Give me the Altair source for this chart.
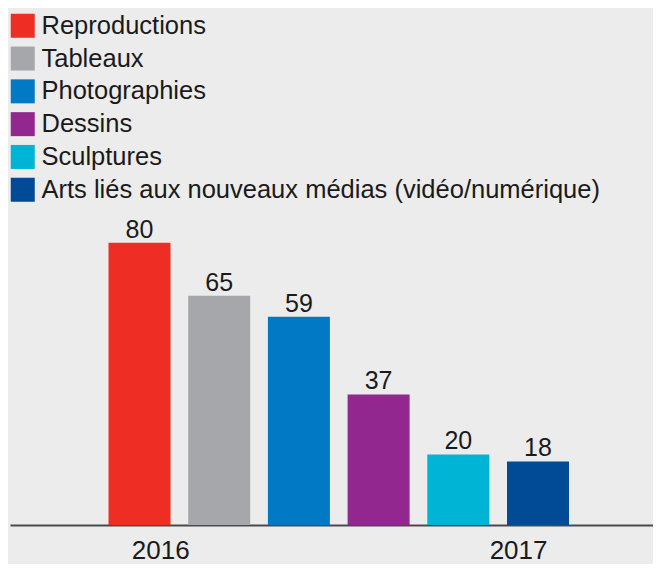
import altair as alt
import pandas as pd

categories = [
    "Reproductions",
    "Tableaux",
    "Photographies",
    "Dessins",
    "Sculptures",
    "Arts liés aux nouveaux médias (vidéo/numérique)",
]
values = [80, 65, 59, 37, 20, 18]
colors = ["#ee2e24", "#a6a7aa", "#0279c4", "#92278f", "#00b4d6", "#004a96"]
years = ["2016", "2017"]
year_ticks = [0.26, 4.75]

df = pd.DataFrame({"idx": list(range(len(categories))), "category": categories, "value": values})

FONT = "Liberation Sans"
TXT = "#1a1a1a"

x_enc = alt.X(
    "idx:Q",
    scale=alt.Scale(domain=[-1.625, 6.443], nice=False, zero=False, padding=0),
    axis=alt.Axis(
        values=year_ticks,
        labelExpr=f"datum.value < 2 ? '{years[0]}' : '{years[1]}'",
        title=None,
        grid=False,
        ticks=False,
        domainColor="#4a4a4a",
        domainWidth=2,
        labelFont=FONT,
        labelFontSize=26,
        labelColor=TXT,
        labelBaseline="alphabetic",
        labelPadding=33,
        labelFlush=False,
        labelOverlap=False,
    ),
)
y_enc = alt.Y("value:Q", scale=alt.Scale(domain=[0, 89], nice=False, padding=0), axis=None)

base = alt.Chart(df).encode(x=x_enc, y=y_enc)

bars = base.mark_bar(size=62).encode(
    color=alt.Color(
        "category:N",
        scale=alt.Scale(domain=categories, range=colors),
        sort=categories,
        legend=alt.Legend(
            title=None,
            orient="none",
            legendX=0,
            legendY=-198,
            symbolType="square",
            symbolSize=576,
            symbolStrokeWidth=0,
            symbolOpacity=1,
            labelFont=FONT,
            labelFontSize=25.5,
            labelColor=TXT,
            labelOffset=6,
            labelLimit=700,
            rowPadding=5.8,
            padding=0,
        ),
    )
)

labels = base.mark_text(
    baseline="alphabetic", dy=-5, font=FONT, fontSize=25, color=TXT
).encode(text="value:Q")

chart = (
    alt.layer(bars, labels)
    .properties(
        width=643,
        height=314,
        autosize=alt.AutoSizeParams(type="none"),
        padding={"left": 2, "top": 203, "right": 0, "bottom": 39},
        background="#ececec",
    )
    .configure_view(stroke=None)
)

chart.save("out.html", embed_options={"renderer": "svg", "actions": False})
